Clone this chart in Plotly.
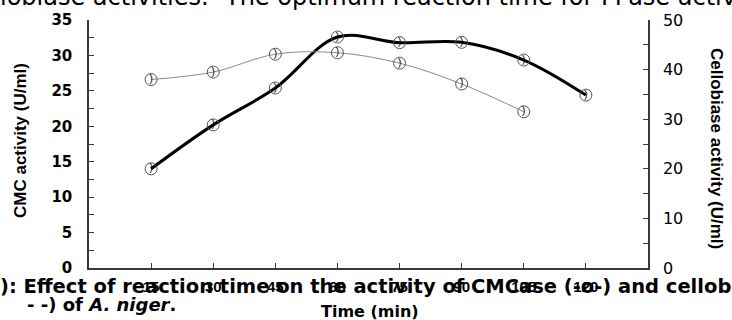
import plotly.graph_objects as go

# Reaction time (min)
time_min = [15, 30, 45, 60, 75, 90, 105, 120]
x_ticks = [15, 30, 45, 60, 75, 90, 105, 120]

# CMCase activity (U/ml), left axis
cmc = [14.0, 20.2, 25.4, 32.6, 31.8, 31.85, 29.35, 24.4]

# Cellobiase activity (U/ml), right axis
cello_time = [15, 30, 45, 60, 75, 90, 105]
cello = [38.0, 39.5, 43.1, 43.4, 41.3, 37.1, 31.5]

W, H = 732, 320
PL, PR, PT, PB = 89, 648, 20, 268


def xp(px):
    return (px - PL) / (PR - PL)


def yp(py):
    return (PB - py) / (PB - PT)


SANS = "Arial, Liberation Sans, sans-serif"
WIDE = "DejaVu Sans, sans-serif"
AXIS_COLOR = "#3a3a3a"

fig = go.Figure()

# CMCase: thick smooth black curve
fig.add_trace(go.Scatter(
    x=time_min, y=cmc, mode="lines+markers",
    line=dict(color="black", width=3, shape="spline", smoothing=1.0),
    marker=dict(symbol="circle-open", size=12, color="#555555",
                line=dict(width=1, color="#555555")),
    showlegend=False, cliponaxis=False,
))
fig.add_trace(go.Scatter(
    x=time_min, y=cmc, mode="text", text=[")"] * len(cmc),
    textfont=dict(family=SANS, size=10, color="black"),
    showlegend=False, cliponaxis=False,
))

# Cellobiase: thin grey smooth curve on the secondary axis
fig.add_trace(go.Scatter(
    x=cello_time, y=cello, mode="lines+markers", yaxis="y2",
    line=dict(color="#8a8a8a", width=1, shape="spline", smoothing=1.0),
    marker=dict(symbol="circle-open", size=12, color="#555555",
                line=dict(width=1, color="#555555")),
    showlegend=False, cliponaxis=False,
))
fig.add_trace(go.Scatter(
    x=cello_time, y=cello, mode="text", yaxis="y2", text=[")"] * len(cello),
    textfont=dict(family=SANS, size=10, color="black"),
    showlegend=False, cliponaxis=False,
))

fig.update_layout(
    width=W, height=H,
    margin=dict(l=PL, r=W - PR, t=PT, b=H - PB, pad=0),
    paper_bgcolor="white", plot_bgcolor="white",
    xaxis=dict(
        range=[0, 135], tickvals=x_ticks, ticktext=[str(v) for v in x_ticks],
        ticks="inside", ticklen=5, tickwidth=1, tickcolor=AXIS_COLOR,
        showline=True, linecolor=AXIS_COLOR, linewidth=1.5,
        showgrid=False, zeroline=False,
        tickfont=dict(family=SANS, size=15, color="black", weight="bold"),
        ticklabelstandoff=4,
    ),
    yaxis=dict(
        range=[0, 35], dtick=5, ticks="inside", ticklen=5, tickwidth=1,
        tickcolor=AXIS_COLOR, showline=True, linecolor=AXIS_COLOR, linewidth=1.5,
        showgrid=False, zeroline=False,
        minor=dict(dtick=2.5, ticks="inside", ticklen=5, tickcolor=AXIS_COLOR),
        tickfont=dict(family=WIDE, size=15, color="black", weight="bold"),
        ticklabelstandoff=12,
    ),
    yaxis2=dict(
        range=[0, 50], dtick=10, overlaying="y", side="right",
        ticks="inside", ticklen=5, tickwidth=1, tickcolor=AXIS_COLOR,
        showline=True, linecolor=AXIS_COLOR, linewidth=1.5,
        showgrid=False, zeroline=False,
        minor=dict(dtick=5, ticks="inside", ticklen=5, tickcolor=AXIS_COLOR),
        tickfont=dict(family=WIDE, size=16, color="black"),
        ticklabelstandoff=10,
    ),
)

ann = []


def text(s, px, py, size, family=SANS, bold=False, anchor="left", angle=0):
    ann.append(dict(
        text=s, x=xp(px), y=yp(py), xref="paper", yref="paper",
        xanchor=anchor, yanchor="middle", showarrow=False, textangle=angle,
        font=dict(family=family, size=size, color="black",
                  weight="bold" if bold else "normal"),
    ))


# Axis titles
text("CMC activity (U/ml)", 20, 141, 17, bold=True, anchor="center", angle=-90)
text("Cellobiase activity (U/ml)", 717, 148, 17, bold=True, anchor="center", angle=90)
text("Time (min)", 370, 311, 16, family=WIDE, bold=True, anchor="center")

# Surrounding document text
text("lobiase activities.", -2, -3, 24, family=WIDE)
text("The optimum reaction time for FPase activities", 222, -3, 24, family=WIDE)
text("): Effect of reaction time on the activity of CMCase (-o-) and cellobiase (-",
     -2, 286, 19.5, family=WIDE, bold=True)
text("- -) of <i>A. niger</i>.", 25, 304, 18, family=WIDE, bold=True)

fig.update_layout(annotations=ann)

fig.write_html("out.html")
